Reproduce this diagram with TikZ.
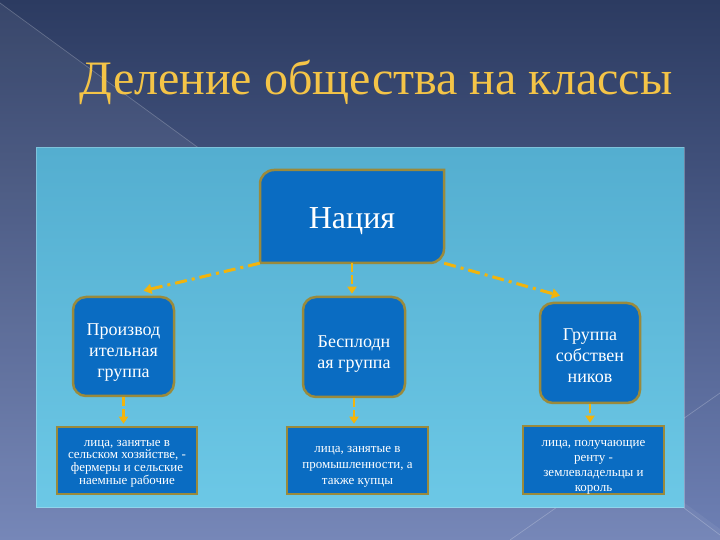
\documentclass[tikz,border=0pt]{standalone}
\usepackage{fontspec}
\setmainfont{Liberation Serif}
\usetikzlibrary{arrows.meta,calc}
\definecolor{bgtop}{HTML}{2C3B61}
\definecolor{bgbot}{HTML}{6E80B4}
\definecolor{panelt}{HTML}{54AED0}
\definecolor{panelb}{HTML}{6CC8E6}
\definecolor{boxfill}{HTML}{0A6CC2}
\definecolor{boxline}{HTML}{9A8A3C}
\definecolor{arrowc}{HTML}{F2B40C}
\definecolor{titlec}{HTML}{F4C447}
\begin{document}
\begin{tikzpicture}[x=1pt,y=1pt,
  groupbox/.style={rectangle, rounded corners=13pt, fill=boxfill, draw=boxline, line width=2.5pt, inner sep=0pt},
  gtext/.style={text=white, font=\fontsize{18}{21}\selectfont, align=center, inner sep=0pt},
  descbox/.style={rectangle, fill=boxfill, draw=boxline, line width=2.5pt, inner sep=0pt},
  dtext/.style={text=white, font=\fontsize{13}{12.7}\selectfont, align=center, inner sep=0pt},
  dashdotarrow/.style={arrowc, line width=3pt, dash pattern=on 12pt off 5pt on 3pt off 5pt, -{Triangle[width=10pt,length=8pt]}},
  shortarrow/.style={arrowc, line width=2.5pt, dash pattern=on 9pt off 3pt, -{Triangle[width=9pt,length=7pt]}},
  decoline/.style={white, opacity=0.22, line width=0.7pt}]
\useasboundingbox (0,0) rectangle (720,540);
% background
\shade[top color=bgtop, bottom color=bgbot] (0,0) rectangle (720,540);
\fill[white, opacity=0.06] (0,537) -- (735,0) -- (0,0) -- cycle;
\draw[decoline] (0,537) -- (300,318);
\draw[decoline] (720,147) -- (510,0);
\draw[decoline] (684,32) -- (720,5);
% panel
\shade[top color=panelt, bottom color=panelb] (36,32) rectangle (684,392);
\draw[white, opacity=0.25, line width=1pt] (36,32) rectangle (684,392);
% title
\node[font=\fontsize{48}{54}\selectfont, text=titlec] (title) at (376,458) {Деление общества на классы};
% nation box (two rounded corners)
\draw[fill=boxfill, draw=boxline, line width=2.5pt]
  (260,277) -- (260,356) arc[start angle=180, end angle=90, radius=14pt]
  -- (444,370) -- (444,291) arc[start angle=0, end angle=-90, radius=14pt] -- cycle;
\node[minimum width=184pt, minimum height=93pt, inner sep=0pt,
  label={[text=white, font=\fontsize{32}{36}\selectfont, yshift=-5pt]center:Нация}] (nat) at (352,323.5) {};
% groups
\node[groupbox, minimum width=101pt, minimum height=99pt,
  label={[gtext, yshift=-6pt]center:{Производ\\ительная\\группа}}] (pa) at (123.5,193.5) {};
\node[groupbox, minimum width=102pt, minimum height=100pt,
  label={[gtext, yshift=-7pt]center:{Бесплодн\\ая группа}}] (pb) at (354,193) {};
\node[groupbox, minimum width=100pt, minimum height=100pt,
  label={[gtext, yshift=-3pt]center:{Группа\\собствен\\ников}}] (pc) at (590,187) {};
% descriptions
\node[descbox, minimum width=140pt, minimum height=67pt,
  label={[dtext, yshift=-3pt]center:{лица, занятые в\\сельском хозяйстве, -\\фермеры и сельские\\наемные рабочие}}] (pd) at (127,79.5) {};
\node[descbox, minimum width=141pt, minimum height=67pt,
  label={[dtext, font=\fontsize{13}{16}\selectfont, yshift=-6pt]center:{лица, занятые в\\промышленности, а\\также купцы}}] (pe) at (357.5,79.5) {};
\node[descbox, minimum width=141pt, minimum height=68pt,
  label={[dtext, font=\fontsize{13}{15}\selectfont, yshift=-7pt]center:{лица, получающие\\ренту -\\землевладельцы и\\король}}] (pf) at (593.5,80) {};
% connectors
\draw[dashdotarrow] (nat.south west) -- ($(pa.north)+(20,5)$);
\draw[shortarrow] (nat.south) -- ($(nat.south |- pb.north)+(0,2)$);
\draw[dashdotarrow] (nat.south east) -- ($(pc.north)+(-30,6)$);
\draw[shortarrow] (pa.south) -- ($(pa.south |- pd.north)+(0,2)$);
\draw[shortarrow] (pb.south) -- ($(pb.south |- pe.north)+(0,2)$);
\draw[shortarrow] (pc.south) -- ($(pc.south |- pf.north)+(0,2)$);
\end{tikzpicture}
\end{document}
